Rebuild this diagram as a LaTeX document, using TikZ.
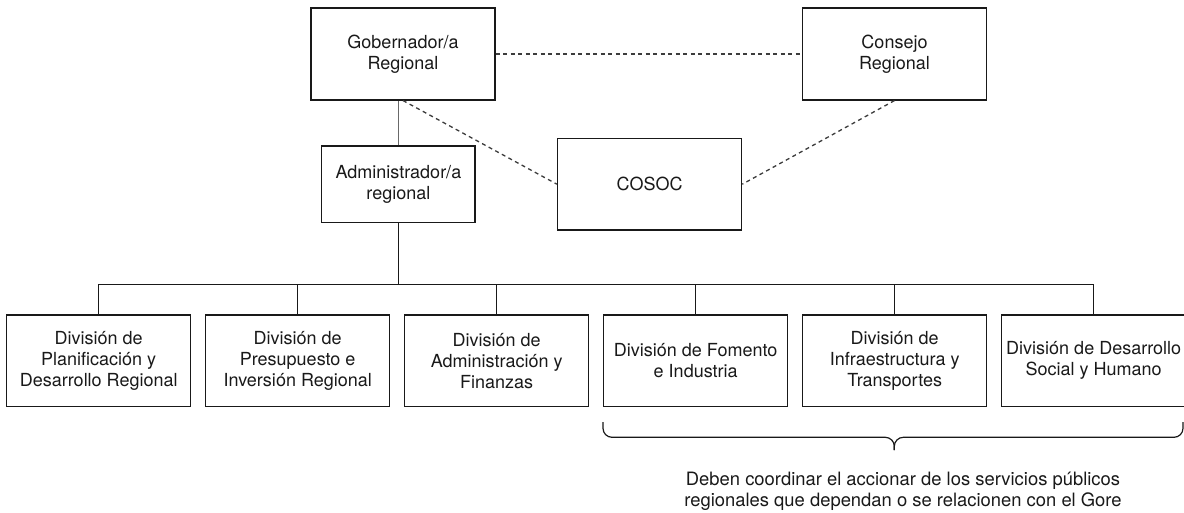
\documentclass[tikz,border=0pt]{standalone}
\usepackage{fontspec}
\setmainfont{TeX Gyre Heros}
\definecolor{Ink}{RGB}{25,25,25}
\definecolor{Dash}{RGB}{60,60,60}
\definecolor{Stem}{RGB}{105,105,105}
\usetikzlibrary{calc}

\begin{document}
\begin{tikzpicture}[x=1pt, y=-1pt,
		box/.style={draw=Ink, text=Ink, line width=1.4pt, align=center, inner sep=0pt,
			minimum width=184pt, minimum height=91.7pt, font=\fontsize{18}{21}\selectfont},
		link/.style={draw=Dash, line width=1.3pt, dash pattern=on 4pt off 3.5pt},
		tree/.style={draw=Ink, line width=1.3pt}]
		
		\useasboundingbox (0,0) rectangle (1184,512);
		
		% Top boxes
		\node[box] (gob) 		at (403, 54) {Gobernador/a\\Regional};
		\node[box] (consejo) 	at (894.5, 54) {Consejo\\Regional};
		\node[box] (cosoc) 		at (649.6, 184.2) {COSOC};
		\node[box, minimum width=153.3pt, minimum height=76.7pt] (admin) at (398.4, 184.4) {Administrador/a\\regional};
		
		% Divisions
		\node[box] (div1) at (98.7, 360.8) {División de\\Planificación y\\Desarrollo Regional};
		\node[box] (div2) at (297.7, 360.8) {División de\\Presupuesto e\\Inversión Regional};
		\node[box] (div3) at (496.7, 360.8) {División de\\Administración y\\Finanzas};
		\node[box] (div4) at (695.7, 360.8) {División de Fomento\\e Industria};
		\node[box] (div5) at (894.7, 360.8) {División de\\Infraestructura y\\Transportes};
		\node[box] (div6) at (1093.7, 360.8) {División de Desarrollo\\Social y Humano};
		
		% Lines
		\draw[link] (gob.east) -- (consejo.west);
		\draw[link] (gob.south) -- (cosoc.west);
		\draw[link] (consejo.south) -- (cosoc.east);
		\draw[draw=Stem, line width=1.6pt] (admin.north) -- (admin.north |- gob.south);
		
		\coordinate (bus) at (0, 284.2);
		\draw[tree] (admin.south) -- (admin.south |- bus);
		\draw[tree] (div1.north |- bus) -- (div6.north |- bus);
		\foreach \i in {1,...,6}
			\draw[tree] (div\i.north |- bus) -- (div\i.north);
		
		% Brace
		\coordinate (bl) at (603, 422);
		\coordinate (br) at (1183, 422);
		\coordinate (tip) at (894.3, 450);
		\draw[tree, line width=1.2pt, rounded corners=9pt] (bl) -- (bl |- 0,437.3) -- (tip |- 0,437.3) -- (tip);
		\draw[tree, line width=1.2pt, rounded corners=9pt] (br) -- (br |- 0,437.3) -- (tip |- 0,437.3) -- (tip);
		
		% Note
		\node[align=center, text=Ink, font=\fontsize{18.4}{21}\selectfont] (note) at (903, 491)
			{Deben coordinar el accionar de los servicios públicos\\regionales que dependan o se relacionen con el Gore};
		
	\end{tikzpicture}
\end{document}
